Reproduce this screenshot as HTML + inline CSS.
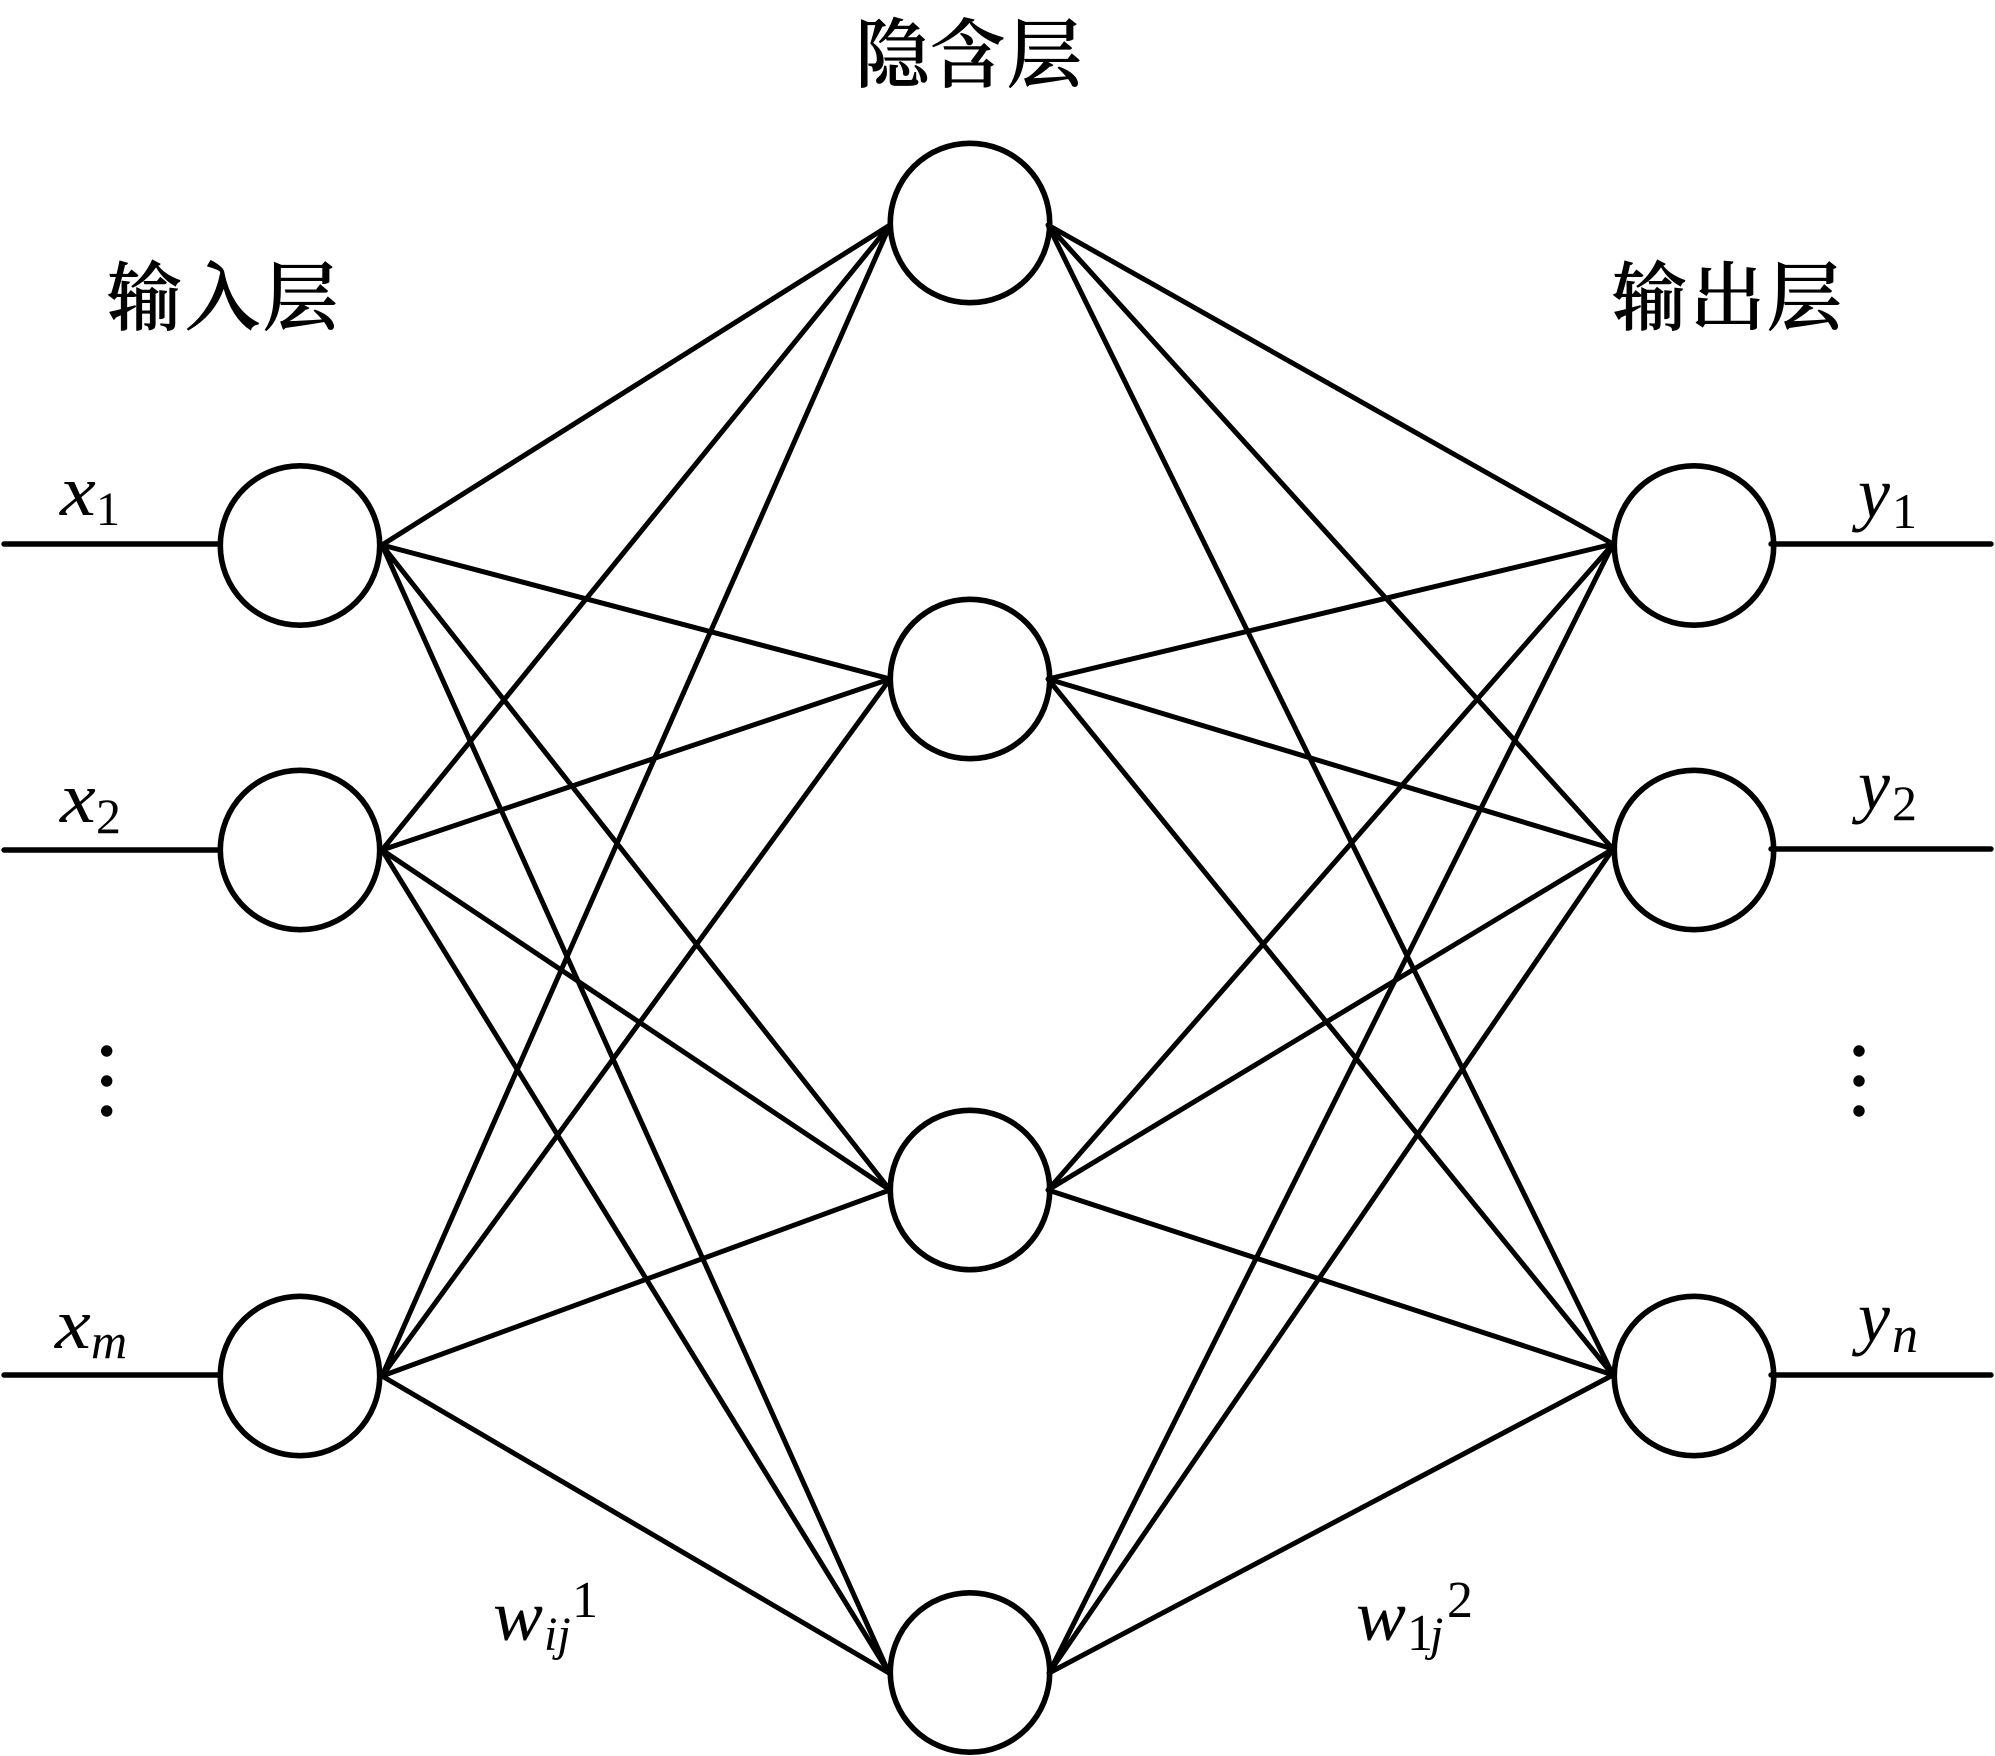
<!DOCTYPE html>
<html>
<head>
<meta charset="utf-8">
<style>
html,body{margin:0;padding:0;background:#fff}
svg{display:block}
.c{font-family:"Noto Serif CJK SC","Liberation Serif",serif;font-size:75px;font-weight:500;fill:#000;stroke:#000;stroke-width:0.9}
.i{font-family:"Liberation Serif",serif;font-style:italic;fill:#000}
.n{font-family:"Liberation Serif",serif;fill:#000}
</style>
</head>
<body>
<svg width="1995" height="1756" viewBox="0 0 1995 1756" xmlns="http://www.w3.org/2000/svg">
<rect width="1995" height="1756" fill="#fff"/>
<g stroke="#000" stroke-width="5" fill="none" stroke-linecap="round">
<!-- input to hidden -->
<path d="M382 545L890 225M382 545L890 679M382 545L890 1190M382 545L889 1673"/>
<path d="M382 850L890 225M382 850L890 679M382 850L890 1190M382 850L889 1673"/>
<path d="M382 1376L890 225M382 1376L890 679M382 1376L890 1190M382 1376L889 1673"/>
<!-- hidden to output -->
<path d="M1048 225L1613 544M1048 225L1613 849M1048 225L1613 1375"/>
<path d="M1048 679L1613 544M1048 679L1613 849M1048 679L1613 1375"/>
<path d="M1048 1190L1613 544M1048 1190L1613 849M1048 1190L1613 1375"/>
<path d="M1049 1673L1613 544M1049 1673L1613 849M1049 1673L1613 1375"/>
<!-- io lines -->
<path d="M4 544H218M4 850H218M4 1375H218" stroke-width="5.4"/>
<path d="M1771 544H1991M1771 849H1991M1771 1375H1991" stroke-width="5.4"/>
<!-- circles -->
<g stroke-width="5.6">
<circle cx="300" cy="545.5" r="79.7"/>
<circle cx="300" cy="850" r="79.7"/>
<circle cx="300" cy="1376" r="79.7"/>
<circle cx="970" cy="223" r="79.7"/>
<circle cx="970" cy="679" r="79.7"/>
<circle cx="970" cy="1190" r="79.7"/>
<circle cx="970" cy="1672.5" r="79.7"/>
<circle cx="1694" cy="545.5" r="79.7"/>
<circle cx="1694" cy="850" r="79.7"/>
<circle cx="1694" cy="1376" r="79.7"/>
</g>
</g>
<!-- dots -->
<g fill="#000">
<circle cx="106.7" cy="1051" r="5.7"/><circle cx="106.7" cy="1081" r="5.7"/><circle cx="106.7" cy="1111" r="5.7"/>
<circle cx="1859" cy="1051" r="5.7"/><circle cx="1859" cy="1081" r="5.7"/><circle cx="1859" cy="1111" r="5.7"/>
</g>
<!-- layer labels -->
<text class="c" x="107" y="324">输</text><text class="c" x="185" y="324">入</text><text class="c" x="263" y="324">层</text>
<text class="c" x="855" y="81">隐</text><text class="c" x="930" y="81">含</text><text class="c" x="1007" y="81">层</text>
<text class="c" x="1612" y="324">输</text><text class="c" x="1690" y="324">出</text><text class="c" x="1767" y="324">层</text>
<!-- variable labels -->
<text class="i" transform="translate(60 515) scale(1.12 1)" font-size="72">x</text><text class="n" x="96" y="525" font-size="48">1</text>
<text class="i" transform="translate(60 822) scale(1.12 1)" font-size="72">x</text><text class="n" x="96" y="833" font-size="50">2</text>
<text class="i" transform="translate(55 1348) scale(1.12 1)" font-size="72">x</text><text class="i" x="91" y="1358" font-size="50">m</text>
<text class="i" x="1858" y="517" font-size="72">y</text><text class="n" x="1892" y="528" font-size="50">1</text>
<text class="i" x="1858" y="809" font-size="72">y</text><text class="n" x="1892" y="820" font-size="50">2</text>
<text class="i" x="1858" y="1341" font-size="72">y</text><text class="i" x="1892" y="1352" font-size="52">n</text>
<text class="i" transform="translate(493 1640) scale(1.04 1)" font-size="72">w</text><text class="i" x="544" y="1650" font-size="48">ij</text><text class="n" x="572" y="1617" font-size="52">1</text>
<text class="i" transform="translate(1356 1640) scale(1.04 1)" font-size="72">w</text><text class="n" x="1407" y="1650" font-size="52">1</text><text class="i" x="1430" y="1650" font-size="48">j</text><text class="n" x="1447" y="1617" font-size="52">2</text>
</svg>
</body>
</html>
